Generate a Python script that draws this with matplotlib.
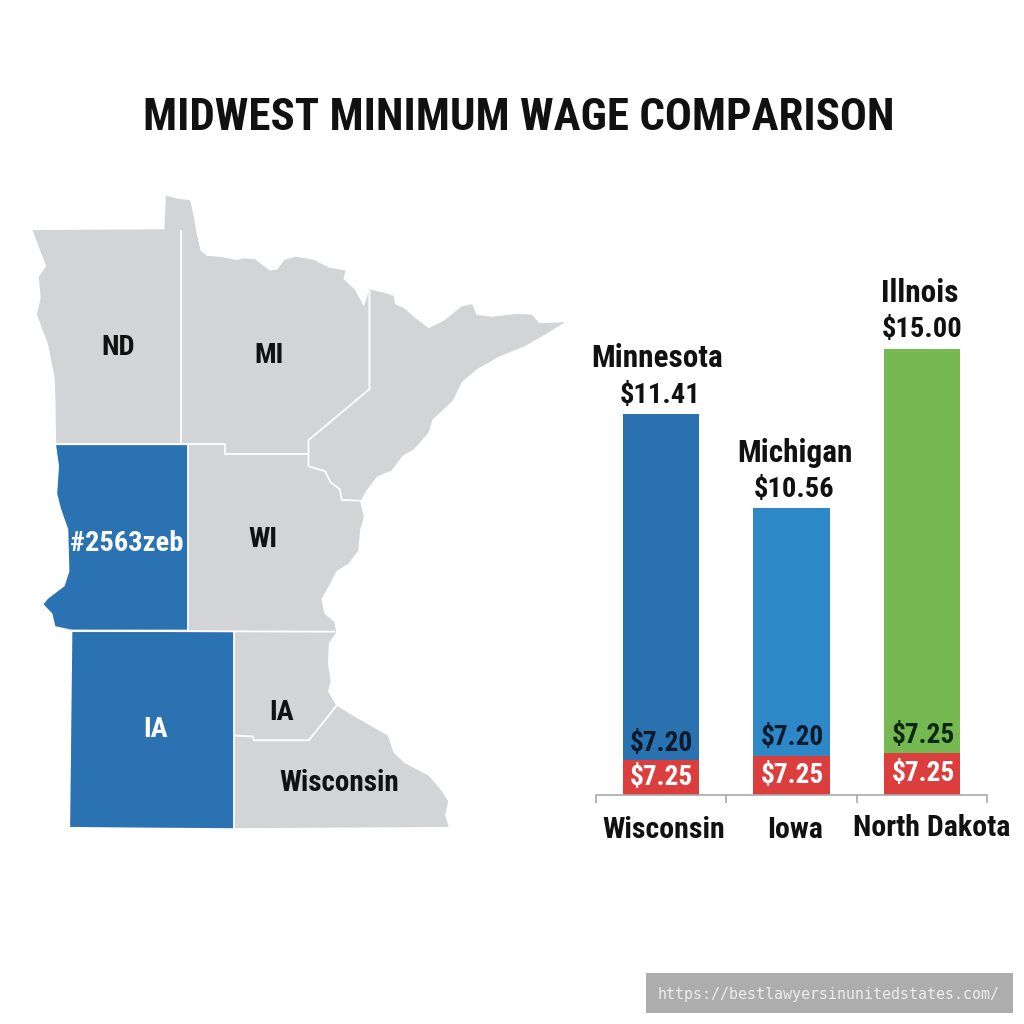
import matplotlib
matplotlib.use("Agg")
import matplotlib.pyplot as plt
from matplotlib import font_manager as fm
from matplotlib.patches import Polygon, Rectangle

names = {f.name for f in fm.fontManager.ttflist}
COND = next((n for n in ["Liberation Sans Narrow", "Roboto Condensed", "Open Sans Condensed", "Liberation Sans"] if n in names), "DejaVu Sans")

# ---- data ----
bar_axis_categories = ["Wisconsin", "Iowa", "North Dakota"]
bar_top_names = ["Minnesota", "Michigan", "Illnois"]
bar_top_labels = ["$11.41", "$10.56", "$15.00"]
bar_upper_labels = ["$7.20", "$7.20", "$7.25"]
bar_lower_labels = ["$7.25", "$7.25", "$7.25"]
# heights as drawn, measured on the picture against the tallest bar = 15
bar_totals = [12.82, 9.65, 15.0]
bar_lower = [1.16, 1.30, 1.40]
bar_colors = ["#2A71B0", "#2E88C8", "#76B852"]
RED = "#DC3D3D"

map_outline = [(88,119),(445,117),(449,37),(478,44),(515,48),(524,85),(533,130),(543,168),(560,180),(600,183),
 (640,190),(660,186),(690,188),(730,215),(750,213),(770,190),(800,182),(850,190),(890,208),(935,215),(930,235),
 (960,260),(985,300),(1000,260),(1040,268),(1065,275),(1070,295),(1095,305),(1120,325),(1160,352),(1200,335),
 (1250,300),(1278,295),(1290,320),(1330,325),(1400,318),(1440,320),(1460,340),(1530,338),(1480,365),(1420,395),
 (1350,420),(1290,450),(1250,480),(1225,525),(1170,570),(1160,600),(1120,640),(1090,655),(1060,690),(1020,705),
 (990,740),(975,765),(985,800),(975,830),(970,880),(945,910),(910,930),(890,965),(870,995),(878,1030),(905,1050),
 (910,1075),(890,1100),(888,1150),(895,1190),(888,1215),(910,1248),(950,1270),(1000,1295),(1050,1320),(1065,1360),
 (1095,1385),(1160,1415),(1190,1445),(1213,1475),(1205,1510),(1215,1537),(640,1540),(190,1537),(196,1072),(150,1060),
 (142,1030),(118,1008),(130,995),(175,965),(188,930),(185,830),(165,780),(155,745),(160,680),(152,628),(150,520),
 (148,470),(130,390),(100,320),(110,280),(105,230),(125,205)]
blue_regions = [
 [(152,630),(510,630),(510,1068),(196,1068),(150,1060),(142,1030),(118,1008),(130,995),(175,965),(188,930),(185,830),(165,780),(155,745),(160,680)],
 [(196,1074),(634,1074),(634,1540),(190,1537)],
]
borders = [
 [(490,120),(490,625)],
 [(152,627),(608,627),(608,652),(835,652)],
 [(1000,265),(1000,497),(835,618),(835,680),(880,692),(895,718),(920,735),(925,760),(975,762)],
 [(510,630),(510,1070)],
 [(196,1071),(905,1073)],
 [(634,1074),(634,1540)],
 [(634,1320),(684,1322),(688,1331),(836,1331),(910,1250)],
]
map_labels = [("ND",319,398,"#111111",20.5),("MI",727,416,"#111111",20.5),("#2563zeb",344,864,"#FFFFFF",20.5),
              ("WI",711,854,"#111111",20.5),("IA",422,1306,"#FFFFFF",20.5),("IA",763,1266,"#111111",20.5),
              ("Wisconsin",917,1432,"#111111",21)]

W = 1024
fig = plt.figure(figsize=(10.24, 10.24), dpi=100, facecolor="white")

def box(l, t, r, b):
    return [l / W, 1 - b / W, (r - l) / W, (b - t) / W]

# map
m = fig.add_axes(box(0, 180, 580, 840))
m.set_xlim(0, 1570); m.set_ylim(1568, 0); m.axis("off")
m.add_patch(Polygon(map_outline, closed=True, fc="#D3D4D5", ec="none"))
for reg in blue_regions:
    m.add_patch(Polygon(reg, closed=True, fc="#2A72B1", ec="none"))
for line in borders:
    m.plot(*zip(*line), color="white", lw=1.3, solid_joinstyle="miter")
for s, x, y, c, fs in map_labels:
    m.text(x, y, s, color=c, fontsize=fs, family=COND, weight="bold", ha="center", va="center")

# bars
a = fig.add_axes(box(596, 349, 987, 794.5))
a.set_xlim(-0.5, 2.5); a.set_ylim(0, 15); a.patch.set_alpha(0)
xs = list(range(3))
uppers = [t - l for t, l in zip(bar_totals, bar_lower)]
a.bar(xs, bar_lower, width=0.585, color=RED)
a.bar(xs, uppers, width=0.585, bottom=bar_lower, color=bar_colors)
for sp in ["top", "left", "right"]:
    a.spines[sp].set_visible(False)
a.spines["bottom"].set_color("#AAAAAA"); a.spines["bottom"].set_linewidth(1.2)
a.set_yticks([])
a.set_xticks([-0.5, 0.5, 1.5, 2.5]); a.set_xticklabels([])
a.tick_params(axis="x", length=6, width=1.2, color="#AAAAAA")

# text over the whole figure, in reference pixels
o = fig.add_axes([0, 0, 1, 1])
o.set_xlim(0, W); o.set_ylim(W, 0); o.axis("off"); o.patch.set_alpha(0)
def t(x, y, s, fs, c="#111111", **k):
    k.setdefault("family", COND); k.setdefault("weight", "bold")
    o.text(x, y, s, fontsize=fs, color=c, ha="center", va="center", **k)

t(518.5, 118, "MIDWEST MINIMUM WAGE COMPARISON", 32.3)
top_name_x = [657, 795, 920]
top_name_y = [358, 453, 293]
top_val_x = [660, 794, 922]
top_val_y = [395, 490, 330]
inner_x = [661, 792, 923]
up_y = [744, 738, 736]
low_y = [777, 775, 774]
up_col = ["#0B1B2B", "#0B1B2B", "#0B2A10"]
cat_x = [664, 795, 932]
cat_y = [830, 830, 828]
for i in xs:
    t(top_name_x[i], top_name_y[i], bar_top_names[i], 22.5)
    t(top_val_x[i], top_val_y[i], bar_top_labels[i], 20.5)
    t(inner_x[i], up_y[i], bar_upper_labels[i], 19.7, up_col[i])
    t(inner_x[i], low_y[i], bar_lower_labels[i], 19.7, "white")
    t(cat_x[i], cat_y[i], bar_axis_categories[i], 21.5)

o.add_patch(Rectangle((646, 973), 367, 40, fc="#ADADAD", ec="none"))
o.text(829, 994, "https://bestlawyersinunitedstates.com/", fontsize=10.8, color="#EDEDED",
       family="DejaVu Sans Mono", ha="center", va="center")

fig.savefig("out.png", dpi=100, facecolor="white")
